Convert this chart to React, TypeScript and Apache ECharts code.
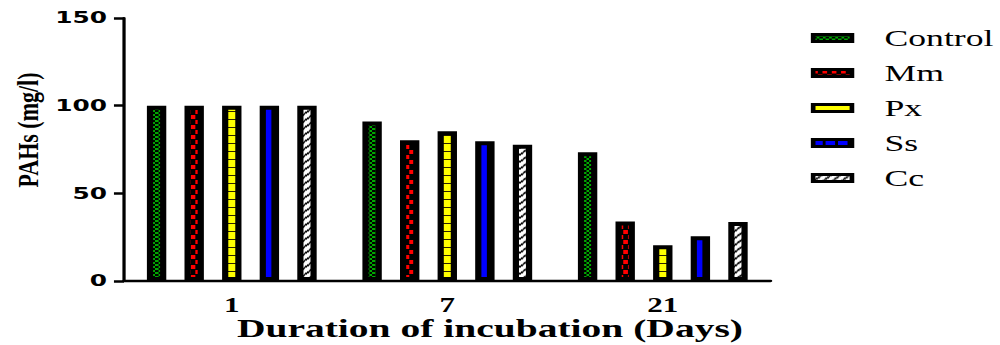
import React, { useEffect, useRef } from "react";
import * as echarts from "echarts";

// ---- data ----
const categories = ["1", "7", "21"];
const seriesNames = ["Control", "Mm", "Px", "Ss", "Cc"];
const controlValues = [100, 91, 73.5];
const mmValues = [100, 80.3, 34];
const pxValues = [100, 85.4, 20.4];
const ssValues = [100, 79.7, 25.5];
const ccValues = [100, 77.7, 33.7];
const yMin = 0;
const yMax = 150;
const yInterval = 50;
const xTitle = "Duration of incubation (Days)";
const yTitle = "PAHs (mg/l)";

// ---- layout (chart space, stretched horizontally by S on the page) ----
const CHART_W = 645;
const CHART_H = 345;
const S = 1000 / CHART_W;
const GRID_LEFT = 80;
const GRID_TOP = 18;
const GRID_W = 417;
const GRID_H = 263;
const CAT_W = GRID_W / categories.length;
const BAR_W = 12.5;
const BAR_GAP = 0.94;

function makeCanvas(w: number, h: number, draw: (ctx: CanvasRenderingContext2D) => void) {
  const c = document.createElement("canvas");
  c.width = w;
  c.height = h;
  const ctx = c.getContext("2d") as CanvasRenderingContext2D;
  draw(ctx);
  return c;
}
function pat(c: HTMLCanvasElement) {
  return { image: c, repeat: "repeat", imageWidth: c.width, imageHeight: c.height } as any;
}

function buildPatterns() {
  const green = makeCanvas(4, 4, (ctx) => {
    ctx.fillStyle = "#000";
    ctx.fillRect(0, 0, 4, 4);
    ctx.fillStyle = "#00a800";
    ctx.fillRect(0, 0, 2, 2);
    ctx.fillRect(2, 2, 2, 2);
  });
  const red = makeCanvas(6, 10, (ctx) => {
    ctx.fillStyle = "#000";
    ctx.fillRect(0, 0, 6, 10);
    ctx.fillStyle = "#ff0000";
    ctx.fillRect(0, 0, 3, 4);
    ctx.fillRect(3, 5, 3, 4);
  });
  const yellow = makeCanvas(4, 8, (ctx) => {
    ctx.fillStyle = "#ffff00";
    ctx.fillRect(0, 0, 4, 8);
    ctx.fillStyle = "#2a2000";
    ctx.fillRect(0, 7, 4, 1);
  });
  const pitch = BAR_W * (1 + BAR_GAP);
  const blueBarCenter = GRID_LEFT + CAT_W / 2 + pitch;
  const stripeX = Math.round((blueBarCenter + 2 - 1) % CAT_W);
  const blue = makeCanvas(Math.round(CAT_W), 2, (ctx) => {
    ctx.fillStyle = "#0000ff";
    ctx.fillRect(0, 0, Math.round(CAT_W), 2);
    ctx.fillStyle = "#000";
    ctx.fillRect(stripeX, 0, 2, 2);
  });
  const hatch = makeCanvas(6, 7, (ctx) => {
    const w = 6, h = 7;
    ctx.fillStyle = "#fff";
    ctx.fillRect(0, 0, w, h);
    ctx.strokeStyle = "#000";
    ctx.lineWidth = 1.4;
    for (let k = -1; k <= 1; k++) {
      ctx.beginPath();
      ctx.moveTo(k * w, h);
      ctx.lineTo((k + 1) * w, 0);
      ctx.stroke();
      ctx.beginPath();
      ctx.moveTo(k * w, 2 * h);
      ctx.lineTo((k + 1) * w, h);
      ctx.stroke();
      ctx.beginPath();
      ctx.moveTo(k * w, 0);
      ctx.lineTo((k + 1) * w, -h);
      ctx.stroke();
    }
  });
  const blueDash = makeCanvas(8, 2, (ctx) => {
    ctx.fillStyle = "#000";
    ctx.fillRect(0, 0, 8, 2);
    ctx.fillStyle = "#0000ff";
    ctx.fillRect(0, 0, 6, 2);
  });
  return { green, red, yellow, blue, hatch, blueDash };
}

export default function App() {
  const ref = useRef<HTMLDivElement>(null);
  useEffect(() => {
    if (!ref.current) return;
    const chart = echarts.init(ref.current, undefined, { renderer: "svg" });
    const p = buildPatterns();
    const fills = [pat(p.green), pat(p.red), pat(p.yellow), pat(p.blue), pat(p.hatch)];
    const values = [controlValues, mmValues, pxValues, ssValues, ccValues];
    const legendFills: any[] = [pat(p.green), pat(p.red), "#ffff00", pat(p.blueDash), pat(p.hatch)];

    chart.setOption({
      animation: false,
      grid: {
        left: GRID_LEFT,
        top: GRID_TOP,
        width: GRID_W,
        height: GRID_H,
        containLabel: false,
        outerBoundsMode: "none",
      },
      legend: {
        orient: "vertical",
        left: 518,
        top: 21,
        icon: "rect",
        itemWidth: 25,
        itemHeight: 7,
        itemGap: 11,
        itemStyle: { borderColor: "#000", borderWidth: 3 },
        textStyle: {
          fontFamily: "Liberation Serif",
          fontSize: 23,
          color: "#000",
          lineHeight: 24,
          padding: [0, 0, 0, 16],
        },
        data: seriesNames.map((n, i) => ({ name: n, itemStyle: { color: legendFills[i] } })),
      },
      xAxis: {
        type: "category",
        data: categories,
        axisLine: { lineStyle: { color: "#000", width: 2.3 } },
        axisTick: { alignWithLabel: true, length: 8, lineStyle: { color: "#000", width: 2.5 } },
        axisLabel: {
          color: "#000",
          fontFamily: "Liberation Serif",
          fontWeight: "bold",
          fontSize: 20,
          margin: 14,
        },
        name: xTitle,
        nameLocation: "middle",
        nameMoveOverlap: false,
        nameGap: 35.5,
        nameTextStyle: {
          color: "#000",
          fontFamily: "Liberation Serif",
          fontWeight: "bold",
          fontSize: 25.5,
          lineHeight: 24,
          padding: [0, 0, 0, 55],
        },
      },
      yAxis: {
        type: "value",
        min: yMin,
        max: yMax,
        interval: yInterval,
        splitLine: { show: false },
        axisLine: { show: true, lineStyle: { color: "#000", width: 2.1 } },
        axisTick: { show: true, length: 6.5, lineStyle: { color: "#000", width: 2.5 } },
        axisLabel: {
          color: "#000",
          fontFamily: "DejaVu Sans",
          fontWeight: "bold",
          fontSize: 16,
          margin: 11,
        },
      },
      graphic: [
        {
          type: "text",
          x: 18.5,
          y: 130,
          rotation: Math.PI / 2,
          scaleY: 1.35 / S,
          style: {
            text: yTitle,
            fontFamily: "Liberation Serif",
            fontWeight: "bold",
            fontSize: 22,
            fill: "#000",
            align: "center",
            verticalAlign: "middle",
          },
        },
      ],
      series: seriesNames.map((n, i) => ({
        name: n,
        type: "bar",
        data: values[i],
        barWidth: BAR_W,
        barGap: `${BAR_GAP * 100}%`,
        itemStyle: { color: fills[i], borderColor: "#000", borderWidth: 4 },
      })),
    });
    return () => chart.dispose();
  }, []);
  return (
    <div
      ref={ref}
      style={{
        position: "fixed",
        left: 0,
        top: 0,
        width: CHART_W,
        height: CHART_H,
        transform: `scaleX(${S})`,
        transformOrigin: "0 0",
        imageRendering: "pixelated",
        background: "#fff",
      }}
    />
  );
}
